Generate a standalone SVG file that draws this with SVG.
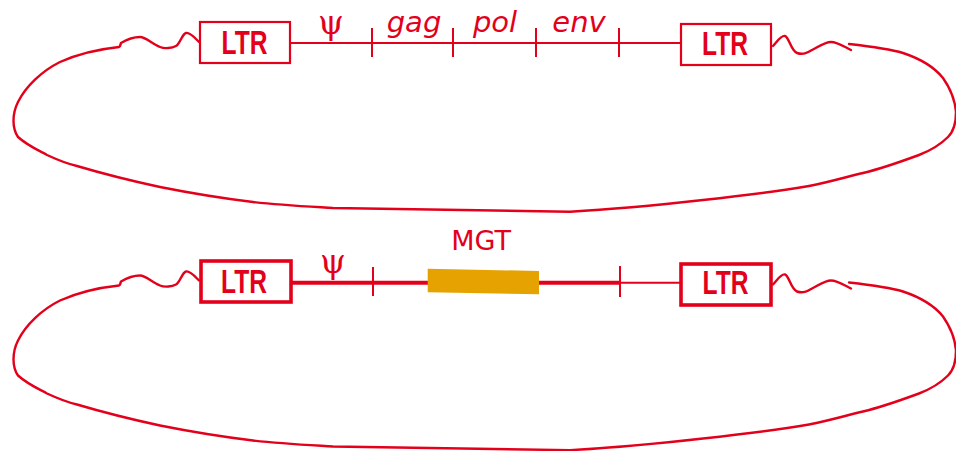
<svg xmlns="http://www.w3.org/2000/svg" width="956" height="451" viewBox="0 0 956 451">
<style>
.ln{fill:none;stroke:#E3001B;stroke-width:2.4;stroke-linejoin:round;stroke-linecap:round}
.thk{fill:none;stroke:#E3001B;stroke-width:4}
.thn{fill:none;stroke:#E3001B;stroke-width:2}
.box{fill:#fff;stroke:#E3001B;stroke-width:2.2}
.boxb{fill:#fff;stroke:#E3001B;stroke-width:3.6}
.ltr{font-family:"Liberation Sans",Arial,sans-serif;font-weight:bold;font-size:33px;fill:#E3001B;text-anchor:middle}
.gene{font-family:"DejaVu Sans",Verdana,sans-serif;font-style:italic;font-size:29px;fill:#E3001B;text-anchor:middle}
.psi{font-family:"DejaVu Serif",serif;font-size:33px;fill:#E3001B;text-anchor:middle}
.mgt{font-family:"DejaVu Sans",Verdana,sans-serif;font-size:27px;fill:#E3001B;text-anchor:middle}
</style>
<defs>
<g id="loop">
<path class="ln" d="M199,42 C195,38 190,32 186,33 C182,34 180,44 176,46 C172,48 165,49 160,47 C152,44 146,37 140,37 C134,37 126,40 121,43 L120,46"/>
<path class="ln" d="M773,46 C777,42 781,35 785,36 C789,37 791,51 797,53 C803,55 807,53 812,50 C818,47 825,42 831,42 C837,42 843,46 851,50"/>
<path class="ln" d="M119,47 C100,49 78,54 60,62 C42,71 26,86 18,102 C12,114 12,128 18,137 C28,146 40,151 47,155 C60,161 68,164 77,166 C104,174 132,181 160,187 C190,193 220,198 253,202 C280,205 300,206 333,208 L570,211.7 C600,210 640,207 703,200 C740,196 780,191 809,186 C830,182 846,177 863,173 C880,169 900,162 919,155 C932,150 941,144 948,137 C953,132 956,124 956,112 C955,100 950,88 943,78 C935,68 921,59 903,53 C890,49 876,47 849,44"/>
</g>
</defs>
<g id="connectors">
<use href="#loop"/>
<use href="#loop" transform="translate(0,238.5)"/>
<line class="thn" x1="291" y1="43" x2="681" y2="43"/>
<line class="thn" x1="372" y1="28" x2="372" y2="57"/>
<line class="thn" x1="453" y1="28" x2="453" y2="57"/>
<line class="thn" x1="536" y1="28" x2="536" y2="57"/>
<line class="thn" x1="619" y1="28" x2="619" y2="57"/>
<line class="thk" x1="292" y1="282.7" x2="428" y2="282.7"/>
<line class="thk" x1="538" y1="282.7" x2="620" y2="282.7"/>
<line class="thn" x1="620" y1="282.7" x2="680" y2="282.7"/>
<line class="thn" x1="373" y1="267" x2="373" y2="296"/>
<line class="thn" x1="620" y1="266" x2="620" y2="297"/>
</g>
<g id="ltr-top-left">
<rect class="box" x="200" y="22" width="90" height="41"/>
<text class="ltr" x="244.5" y="54" textLength="46" lengthAdjust="spacingAndGlyphs">LTR</text>
</g>
<g id="ltr-top-right">
<rect class="box" x="681" y="24" width="90" height="41"/>
<text class="ltr" x="725" y="55" textLength="46" lengthAdjust="spacingAndGlyphs">LTR</text>
</g>
<g id="labels-top">
<text class="psi" x="331" y="34">ψ</text>
<text class="gene" x="414" y="32">gag</text>
<text class="gene" x="495" y="32">pol</text>
<text class="gene" x="579" y="32">env</text>
</g>
<g id="ltr-bottom-left">
<rect class="boxb" x="201" y="261" width="90" height="41"/>
<text class="ltr" x="244" y="293" textLength="46" lengthAdjust="spacingAndGlyphs">LTR</text>
</g>
<g id="ltr-bottom-right">
<rect class="boxb" x="681" y="264" width="90" height="41"/>
<text class="ltr" x="725.5" y="294" textLength="46" lengthAdjust="spacingAndGlyphs">LTR</text>
</g>
<g id="mgt">
<polygon points="427.7,268.7 539,271 539,294.3 427.7,292.3" fill="#E6A200"/>
<text class="mgt" x="481" y="250">MGT</text>
</g>
<g id="labels-bottom">
<text class="psi" x="333" y="273">ψ</text>
</g>
</svg>
